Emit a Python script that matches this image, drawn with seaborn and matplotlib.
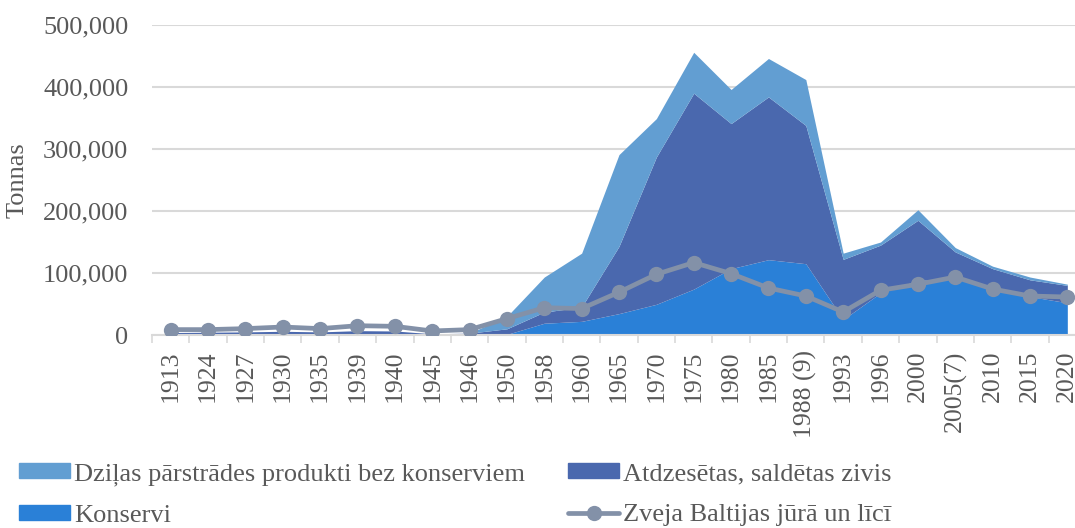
import seaborn as sns
import matplotlib.pyplot as plt
from matplotlib.patches import Patch
from matplotlib.lines import Line2D
from matplotlib.ticker import FuncFormatter, FixedLocator
import numpy as np

years = ['1913', '1924', '1927', '1930', '1935', '1939', '1940', '1945', '1946', '1950',
         '1958', '1960', '1965', '1970', '1975', '1980', '1985', '1988 (9)', '1993', '1996',
         '2000', '2005(7)', '2010', '2015', '2020']

konservi = [500, 500, 600, 800, 600, 900, 800, 300, 400, 1000,
            19000, 22000, 34500, 49500, 74000, 107000, 121500, 115000, 25000, 68000,
            88000, 92000, 72000, 62000, 52000]
atdzesetas = [3500, 4000, 4400, 5200, 4400, 6100, 5700, 1700, 2600, 9000,
              18000, 23000, 108500, 237500, 316000, 234000, 262500, 223000, 97000, 77000,
              97000, 42000, 35000, 27000, 28000]
dzilas = [0, 0, 0, 0, 0, 0, 0, 0, 0, 20000,
          56500, 87000, 148000, 62000, 66000, 55000, 62000, 74000, 10000, 5000,
          17000, 7000, 4000, 4500, 2000]
zveja = [8700, 8700, 10300, 12900, 10300, 15000, 14000, 6500, 8700, 26400,
         44000, 42600, 69000, 97900, 116800, 99000, 75800, 62900, 37100, 72100,
         81800, 93500, 74200, 62900, 61300]

c_konservi = '#2A80D7'
c_atdz = '#4A68AE'
c_dzilas = '#629ED2'
c_zveja = '#8391A8'
txt = '#595959'
grid = '#D9D9D9'

sns.set_theme(style='white')
plt.rcParams['font.family'] = ['Liberation Serif', 'DejaVu Serif']

fig = plt.figure(figsize=(10.75, 5.28), dpi=100)
ax = fig.add_axes([152 / 1075, 193 / 528, 934 / 1075, 310 / 528])

x = np.arange(len(years))
ax.stackplot(x, konservi, atdzesetas, dzilas,
             colors=[c_konservi, c_atdz, c_dzilas], linewidth=0, zorder=2)
sns.lineplot(x=x, y=zveja, ax=ax, color=c_zveja, lw=3.4, marker='o',
             markersize=11, markeredgewidth=0, zorder=3)

ax.set_xlim(-0.5, len(years) - 0.5)
ax.set_ylim(0, 500000)
ax.set_yticks(np.arange(0, 500001, 100000))
ax.yaxis.set_major_formatter(FuncFormatter(lambda v, p: f'{int(v):,}'))
ax.grid(axis='y', color=grid, lw=1.5, zorder=0)
ax.set_axisbelow(True)

ax.set_xticks(x)
ax.set_xticklabels(years, rotation=90, va='top', ha='center')
ax.xaxis.set_minor_locator(FixedLocator(np.arange(-0.5, len(years), 1)))
ax.tick_params(axis='x', which='major', length=0, pad=11, labelsize=18.5, labelcolor=txt)
ax.tick_params(axis='x', which='minor', length=6, width=1.2, color=grid, direction='out', bottom=True)
ax.tick_params(axis='y', length=0, pad=17, labelsize=19, labelcolor=txt)

for s in ['top', 'right', 'left']:
    ax.spines[s].set_visible(False)
ax.spines['bottom'].set_color(grid)
ax.spines['bottom'].set_linewidth(1.5)

ax.set_ylabel('Tonnas', fontsize=19, color=txt)
ax.yaxis.set_label_coords(-123 / 934, 0.5)

h1 = [Patch(color=c_dzilas), Patch(color=c_konservi)]
l1 = ['Dziļas pārstrādes produkti bez konserviem', 'Konservi']
h2 = [Patch(color=c_atdz),
      Line2D([0], [0], color=c_zveja, lw=3.4, marker='o', markersize=11, markeredgewidth=0)]
l2 = ['Atdzesētas, saldētas zivis', 'Zveja Baltijas jūrā un līcī']

kw = dict(frameon=False, fontsize=19, labelcolor=txt, handlelength=1.95, handleheight=0.5,
          handletextpad=0.15, labelspacing=0.72, borderpad=0, borderaxespad=0)
fig.legend(h1, l1, loc='upper left', bbox_to_anchor=(19 / 1075, 1 - 463 / 528), **kw)
fig.legend(h2, l2, loc='upper left', bbox_to_anchor=(568 / 1075, 1 - 463 / 528), **kw)

plt.savefig('out.png', dpi=100)
